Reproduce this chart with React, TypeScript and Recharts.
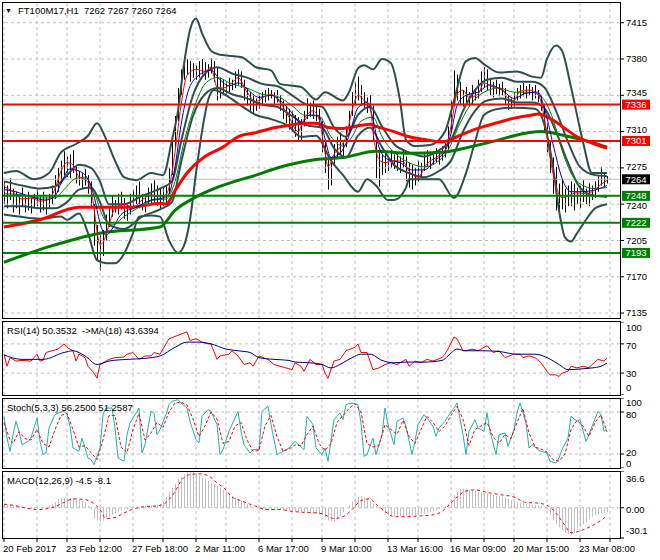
import React from "react";
import { ComposedChart, Bar, Line, XAxis, YAxis, ReferenceLine } from "recharts";

const FONT = "'Liberation Sans', Arial, sans-serif";
const FS = 9.5;
const X_DOMAIN: [number, number] = [-2 / 3, 205 + 1 / 3];

// ---------- axis ----------
const xGridIdx = [0, 11, 21, 32, 43, 53, 64, 74, 85, 96, 106, 117, 128, 138, 149, 160, 170, 181, 192, 202];
const xLabelIdx = [0, 21, 43, 64, 85, 106, 128, 149, 170, 192];
const xLabels = ["20 Feb 2017", "23 Feb 12:00", "27 Feb 18:00", "2 Mar 11:00", "6 Mar 17:00", "9 Mar 10:00", "13 Mar 16:00", "16 Mar 09:00", "20 Mar 15:00", "23 Mar 08:00"];
const priceTicks = [7135, 7170, 7205, 7240, 7275, 7310, 7345, 7380, 7415];
const rsiTicks = [0, 30, 70, 100];
const stochTicks = [0, 20, 80, 100];
const macdTicks = [-30.1, 0, 36.6];

// ---------- levels ----------
const redLevels = [7336, 7301];
const greenLevels = [7248, 7222, 7193];
const bidPrice = 7264;

// ---------- titles ----------
const symbolTitle = "FT100M17,H1  7262 7267 7260 7264";
const rsiTitle = "RSI(14) 50.3532  ->MA(18) 43.6394";
const stochTitle = "Stoch(5,3,3) 56.2500 51.2587";
const macdTitle = "MACD(12,26,9) -4.5 -8.1";

// ---------- price bars (H1) ----------
const priceHigh = [
  7262, 7258, 7265, 7255, 7252, 7250, 7256, 7248, 7252, 7246, 7250, 7254, 7248, 7252, 7247, 7250, 7258,
  7268, 7275, 7282, 7291, 7286, 7288, 7292,
  7276, 7272, 7270, 7274, 7268,
  7262, 7240, 7220, 7210,
  7215, 7230, 7238,
  7248, 7244, 7250, 7252, 7246, 7240, 7250, 7254, 7258, 7262, 7250, 7248, 7256, 7260, 7263, 7258, 7255,
  7256, 7258,
  7275, 7300, 7325, 7352, 7370,
  7382, 7380, 7378, 7376, 7374, 7378, 7380, 7377, 7375, 7381, 7378,
  7372, 7362,
  7360, 7358, 7362, 7360, 7368,
  7370, 7368,
  7360, 7352, 7348, 7345, 7342, 7346,
  7348, 7350, 7352, 7350, 7348, 7350,
  7345, 7340, 7335, 7332, 7330, 7326, 7324,
  7322, 7330, 7342, 7338, 7340, 7336,
  7332, 7320, 7300, 7285, 7280,
  7298, 7305, 7309, 7302,
  7315, 7330, 7348, 7358, 7363, 7355,
  7348, 7343, 7345,
  7335, 7300, 7290,
  7288, 7290, 7284, 7292, 7288, 7290, 7286, 7292,
  7286, 7280, 7278, 7275, 7282, 7280,
  7288, 7292, 7286, 7290, 7294, 7290, 7296, 7299,
  7315, 7340, 7369, 7365,
  7358, 7350, 7353, 7348, 7355, 7352, 7360, 7368, 7372,
  7370, 7362, 7358, 7360, 7356, 7358,
  7352, 7345, 7342, 7348,
  7352, 7355, 7357, 7354, 7356, 7353, 7355, 7350,
  7345, 7335, 7318, 7300, 7285, 7276,
  7260, 7263, 7255, 7258,
  7262, 7260, 7256, 7258, 7263, 7255, 7260, 7258, 7262,
  7268, 7276, 7270, 7267,
];
const priceLow = [
  7240, 7236, 7244, 7232, 7236, 7230, 7238, 7232, 7234, 7231, 7236, 7238, 7232, 7234, 7230, 7236, 7240,
  7245, 7252, 7260, 7268, 7266, 7265, 7270,
  7260, 7258, 7255, 7258, 7250,
  7238, 7200, 7185, 7176,
  7190, 7205, 7218,
  7228, 7232, 7230, 7235, 7226, 7224, 7230, 7238, 7240, 7236, 7234, 7232, 7238, 7240, 7242, 7238, 7236,
  7238, 7240,
  7250, 7268, 7295, 7320, 7345,
  7360, 7365, 7358, 7362, 7360, 7362, 7365, 7360, 7362, 7366, 7358,
  7340, 7342,
  7346, 7345, 7348, 7350, 7352,
  7355, 7352,
  7340, 7335, 7330, 7328, 7330, 7332,
  7335, 7338, 7340, 7342, 7336, 7338,
  7330, 7322, 7318, 7312, 7310, 7305, 7300,
  7302, 7315, 7322, 7324, 7322, 7320,
  7315, 7290, 7270, 7254, 7258,
  7278, 7285, 7288, 7284,
  7295, 7310, 7325, 7335, 7340, 7335,
  7332, 7328, 7330,
  7300, 7265, 7257,
  7268, 7270, 7272, 7275, 7274, 7272, 7270, 7275,
  7262, 7256, 7254, 7258, 7262, 7265,
  7272, 7276, 7274, 7278, 7280, 7278, 7282, 7285,
  7290, 7310, 7335, 7340,
  7336, 7334, 7338, 7334, 7336, 7340, 7342, 7348, 7352,
  7350, 7345, 7343, 7346, 7344, 7345,
  7336, 7331, 7332, 7334,
  7340, 7342, 7344, 7342, 7345, 7340, 7342, 7338,
  7330, 7310, 7290, 7270, 7250, 7234,
  7228, 7235, 7232, 7238,
  7238, 7234, 7240, 7236, 7242, 7240, 7238, 7244, 7246,
  7252, 7258, 7256, 7260,
];

// ---------- main-window indicators [bar index, value] ----------
const maFastRed = [[0,7257],[3,7252],[6,7245],[9,7246],[12,7243],[15,7245],[17,7255],[19,7272],[21,7280],[23,7278],[25,7266],[27,7264],[29,7254],[30,7236],[31,7214],[32,7201],[33,7203],[35,7220],[37,7236],[40,7240],[43,7237],[46,7244],[49,7249],[52,7247],[54,7249],[55,7256],[57,7290],[59,7335],[61,7364],[64,7370],[67,7368],[69,7372],[71,7353],[73,7352],[76,7357],[78,7362],[81,7348],[84,7339],[87,7344],[89,7346],[92,7338],[95,7324],[98,7310],[100,7322],[103,7330],[105,7322],[107,7290],[108,7276],[110,7288],[112,7295],[114,7305],[116,7330],[118,7345],[120,7340],[122,7336],[123,7310],[125,7283],[127,7280],[130,7282],[133,7281],[135,7272],[138,7266],[141,7279],[144,7285],[147,7292],[149,7315],[151,7346],[153,7350],[155,7343],[158,7346],[160,7357],[163,7353],[166,7351],[168,7342],[170,7340],[172,7349],[175,7350],[178,7346],[180,7325],[182,7285],[184,7258],[186,7246],[188,7248],[191,7251],[194,7250],[197,7254],[199,7259],[201,7263]];
const maMidBlue = [[0,7254],[4,7252],[9,7247],[14,7244],[17,7248],[19,7260],[22,7274],[25,7272],[28,7264],[30,7248],[32,7222],[34,7210],[36,7216],[39,7230],[44,7237],[49,7244],[53,7246],[55,7250],[57,7276],[59,7316],[61,7345],[64,7362],[69,7369],[72,7360],[75,7354],[78,7357],[81,7351],[85,7343],[89,7345],[92,7340],[96,7328],[99,7318],[102,7326],[105,7325],[107,7303],[109,7285],[112,7289],[115,7306],[118,7333],[121,7338],[123,7322],[125,7295],[128,7283],[132,7280],[136,7273],[140,7273],[144,7283],[147,7291],[149,7308],[151,7335],[154,7345],[158,7348],[162,7355],[166,7350],[170,7342],[174,7347],[178,7348],[180,7334],[183,7298],[186,7265],[189,7252],[192,7252],[196,7253],[201,7258]];
const maSlowGreen = [[0,7250],[6,7249],[12,7246],[17,7246],[20,7254],[24,7265],[27,7266],[30,7252],[33,7228],[36,7220],[40,7228],[45,7237],[50,7244],[54,7245],[57,7262],[60,7300],[64,7338],[67,7356],[71,7362],[76,7356],[81,7352],[86,7346],[91,7344],[96,7335],[100,7326],[105,7325],[109,7305],[113,7296],[116,7305],[119,7320],[123,7324],[126,7305],[130,7290],[135,7280],[140,7276],[145,7282],[148,7292],[152,7318],[156,7338],[160,7348],[165,7352],[170,7348],[175,7348],[179,7344],[183,7322],[186,7292],[189,7270],[193,7258],[197,7255],[201,7256]];
const bbUpper = [[0,7270],[4,7272],[10,7264],[15,7270],[19,7290],[24,7298],[28,7306],[31,7318],[34,7303],[37,7282],[40,7266],[44,7263],[49,7270],[53,7268],[56,7302],[58,7330],[60,7375],[62,7408],[64,7419],[66,7405],[69,7388],[72,7384],[79,7382],[84,7372],[89,7369],[92,7356],[99,7353],[104,7341],[107,7348],[113,7340],[115,7348],[118,7371],[120,7374],[123,7370],[126,7380],[129,7376],[132,7340],[134,7302],[137,7296],[142,7297],[147,7310],[150,7340],[154,7378],[157,7381],[160,7375],[165,7367],[171,7368],[176,7363],[179,7362],[181,7380],[184,7393],[186,7388],[189,7353],[193,7300],[196,7270],[201,7270]];
const bbLower = [[0,7230],[5,7228],[12,7226],[19,7228],[21,7225],[25,7231],[28,7212],[31,7186],[34,7183],[37,7183],[40,7192],[43,7212],[45,7228],[49,7229],[52,7228],[55,7205],[58,7193],[60,7200],[62,7225],[64,7270],[66,7310],[68,7340],[70,7350],[74,7345],[79,7335],[84,7326],[89,7322],[95,7315],[99,7305],[104,7306],[109,7282],[113,7268],[118,7252],[121,7264],[124,7258],[128,7244],[130,7244],[134,7256],[135,7264],[145,7264],[150,7246],[154,7270],[157,7300],[160,7326],[165,7332],[170,7333],[177,7332],[180,7318],[183,7276],[185,7234],[187,7208],[189,7204],[191,7212],[194,7225],[197,7236],[201,7240]];
const envUpper = [[0,7262],[6,7258],[12,7255],[17,7257],[21,7268],[25,7278],[29,7275],[32,7262],[35,7240],[40,7240],[46,7248],[52,7255],[56,7262],[59,7300],[63,7345],[67,7366],[71,7372],[76,7366],[81,7362],[86,7356],[91,7354],[96,7345],[101,7336],[106,7334],[110,7314],[114,7305],[118,7326],[122,7334],[126,7315],[130,7298],[135,7290],[140,7286],[145,7292],[149,7302],[153,7330],[157,7350],[161,7360],[166,7362],[171,7358],[176,7358],[180,7353],[184,7330],[188,7300],[192,7276],[197,7268],[201,7267]];
const envLower = [[0,7238],[6,7238],[12,7236],[17,7236],[21,7242],[25,7254],[29,7256],[32,7242],[35,7220],[40,7216],[46,7228],[52,7235],[56,7242],[59,7280],[63,7325],[67,7346],[71,7352],[76,7346],[81,7342],[86,7336],[91,7334],[96,7325],[101,7316],[106,7314],[110,7294],[114,7285],[118,7306],[122,7314],[126,7295],[130,7278],[135,7270],[140,7266],[145,7272],[149,7282],[153,7310],[157,7330],[161,7340],[166,7342],[171,7338],[176,7338],[180,7333],[184,7310],[188,7280],[192,7256],[197,7248],[201,7247]];
const ma100Red = [[0,7218],[12,7225],[25,7237],[32,7237],[42,7237],[52,7241],[54,7240],[57,7253],[61,7270],[67,7286],[73,7295],[78,7305],[84,7309],[89,7313],[95,7316],[100,7318],[104,7318],[108,7314],[113,7313],[119,7316],[122,7317],[124,7315],[130,7310],[135,7305],[141,7302],[146,7300],[151,7305],[155,7310],[159,7314],[165,7319],[170,7323],[176,7326],[178,7327],[183,7321],[187,7313],[191,7305],[196,7299],[201,7294]];
const ma200Green = [[0,7184],[15,7199],[32,7212],[52,7218],[57,7234],[64,7247],[70,7255],[78,7263],[84,7268],[89,7273],[95,7278],[104,7283],[113,7285],[124,7291],[135,7289],[146,7290],[155,7295],[165,7302],[170,7306],[179,7310],[187,7306],[193,7302],[201,7295]];

// ---------- RSI ----------
const rsiValues = [[0,55.9],[1,39.4],[2,51.2],[4,46.5],[6,47.4],[9,46.5],[11,55.9],[12,46.5],[13,47.4],[14,58.2],[16,60.6],[18,62.9],[20,70],[21,65.3],[23,60.6],[24,46.5],[25,55.9],[27,51.2],[28,39.4],[30,30],[31,22.9],[32,41.8],[33,44.1],[35,48.8],[37,51.2],[40,52.1],[41,55.9],[43,58.2],[45,48.8],[47,53.5],[49,53.5],[50,58.2],[52,55.9],[54,70],[55,77.1],[58,81.8],[61,86.5],[62,74.7],[64,77.1],[66,72.4],[68,70],[69,70],[71,48.8],[72,53.5],[75,55.9],[76,60.6],[78,53.5],[80,41.8],[82,44.1],[83,39.4],[85,53.5],[88,48.8],[90,41.8],[92,39.4],[94,37.1],[96,34.7],[97,44.1],[99,39.4],[100,32.4],[102,48.8],[104,41.8],[106,41.8],[107,30],[108,22.9],[110,46.5],[112,48.8],[114,60.6],[117,65.3],[118,70],[119,58.2],[121,58.2],[123,34.7],[125,37.1],[127,41.8],[129,44.1],[131,41.8],[134,48.8],[135,39.4],[137,46.5],[139,44.1],[141,48.8],[143,46.5],[146,51.2],[147,55.9],[148,62.9],[150,79.4],[151,77.1],[153,60.6],[154,60.6],[156,62.9],[158,60.6],[160,65.3],[161,67.6],[163,58.2],[165,60.6],[167,51.2],[170,55.9],[172,55.9],[173,51.2],[175,53.5],[177,51.2],[179,44.1],[181,32.4],[182,27.6],[184,27.6],[185,25.3],[186,30],[188,32.4],[189,39.4],[191,37.1],[193,39.4],[195,37.1],[196,41.8],[198,48.8],[200,46.5],[201,50.4]];
const rsiMA = [[0,54.9],[6,48.8],[13,48.8],[20,58.2],[23,60.6],[27,53.5],[31,41.8],[35,46.5],[41,48.8],[47,50.2],[52,53.5],[57,65.3],[61,72.4],[65,72.4],[69,70],[74,62.9],[78,60.6],[82,58.2],[85,51.2],[90,48.8],[95,47.4],[97,45.1],[102,44.1],[106,41.8],[109,37.1],[112,41.8],[116,51.2],[119,55.9],[122,55.9],[126,47.4],[130,44.1],[134,45.1],[140,45.1],[146,47.4],[148,53.5],[151,62.9],[154,60.6],[160,60.6],[165,59.6],[171,55.9],[177,55.9],[181,51.2],[185,41.8],[188,34.7],[192,35.6],[196,37.1],[199,39.4],[201,43.6]];

// ---------- Stochastic ----------
const stochMain = [[0,73.8],[1,42.9],[2,23.8],[3,47.6],[4,66.7],[5,52.4],[6,33.4],[8,38.1],[9,42.9],[11,71.4],[12,38.1],[13,19.1],[14,21.5],[15,57.1],[17,76.2],[18,78.6],[20,81],[21,76.2],[22,59.5],[23,28.6],[25,23.8],[26,42.9],[28,14.3],[29,11.9],[30,4.8],[32,28.6],[33,76.2],[34,85.7],[36,85.7],[37,57.1],[38,14.3],[40,9.5],[41,47.6],[42,64.3],[44,78.6],[45,85.7],[46,21.5],[47,33.4],[49,81],[50,78.6],[51,47.6],[52,54.8],[54,76.2],[55,90.5],[56,95.2],[58,97.6],[59,92.9],[61,85.7],[62,66.7],[64,40.5],[65,35.7],[66,73.8],[68,83.3],[69,81],[71,61.9],[72,19.1],[73,26.2],[75,52.4],[77,71.4],[78,81],[79,52.4],[80,33.4],[82,21.5],[83,26.2],[85,26.2],[86,81],[88,88.1],[89,61.9],[91,19.1],[93,23.8],[95,28.6],[97,38.1],[100,26.2],[101,73.8],[103,61.9],[104,28.6],[106,19.1],[107,28.6],[108,9.5],[110,69],[112,78.6],[113,69],[114,90.5],[116,92.9],[118,90.5],[119,64.3],[120,16.7],[121,19.1],[123,42.9],[124,19.1],[126,47.6],[127,85.7],[128,61.9],[130,33.4],[131,66.7],[133,71.4],[134,59.5],[136,19.1],[137,38.1],[138,61.9],[140,76.2],[141,71.4],[143,59.5],[144,45.2],[145,57.1],[147,66.7],[148,73.8],[150,85.7],[151,92.9],[153,47.6],[154,19.1],[155,52.4],[157,69],[158,57.1],[160,52.4],[161,78.6],[162,52.4],[164,19.1],[165,47.6],[167,50],[168,31],[170,54.8],[171,78.6],[172,92.9],[174,64.3],[175,28.6],[176,33.4],[178,26.2],[179,23.8],[181,21.5],[182,9.5],[184,7.1],[185,14.3],[186,26.2],[188,42.9],[189,73.8],[191,66.7],[192,69],[194,38.1],[195,47.6],[196,59.5],[198,81],[199,76.2],[200,52.4],[201,56.3]];
const stochSignal = [[0,65],[2,40],[3,35],[5,52],[7,42],[9,40],[11,55],[13,35],[15,30],[17,55],[19,75],[21,78],[23,55],[25,30],[27,32],[29,22],[31,12],[33,40],[35,75],[37,75],[39,30],[41,22],[43,55],[45,78],[47,40],[49,50],[51,65],[53,58],[55,80],[57,93],[59,94],[61,90],[63,70],[65,45],[67,60],[69,80],[71,70],[73,35],[75,38],[77,60],[79,65],[81,40],[83,24],[85,25],[87,60],[89,75],[91,45],[93,24],[95,27],[97,33],[99,32],[101,48],[103,60],[105,35],[107,25],[109,35],[111,65],[113,75],[115,85],[117,92],[119,80],[121,35],[123,30],[125,32],[127,62],[129,55],[131,48],[133,68],[135,45],[137,35],[139,55],[141,74],[143,65],[145,52],[147,60],[149,75],[151,88],[153,70],[155,32],[157,55],[159,60],[161,65],[163,45],[165,35],[167,48],[169,42],[171,65],[173,85],[175,50],[177,30],[179,27],[181,23],[183,12],[185,10],[187,20],[189,55],[191,68],[193,60],[195,45],[197,65],[199,76],[201,51.3]];

// ---------- MACD ----------
const macdHist = [
  3.6, 3.4, 3.0, 2.5, 2.0, 1.3, 0.6, 0, -0.5, -0.9,
  -1.1, -1.0, -0.6, 0, 1.0, 2.2, 3.6, 5.5, 8.9, 9.5,
  9.8, 10.0, 9.8, 9.4, 8.9, 8.0, 6.8, 5.3, 2.0, -1.8,
  -10.7, -12.8, -14.2, -12.8, -10.7, -8.8, -7.0, -5.3, -4.0, -2.8,
  -1.8, -1.2, -0.7, -0.2, 0.4, 1.1, 1.3, 1.5, 1.6, 1.8,
  2.3, 3.0, 3.6, 6.8, 10.7, 15.0, 19.6, 24.0, 28.5, 31.0,
  33.5, 35.6, 36.2, 36.6, 34.5, 32.0, 30.2, 28.5, 26.7, 24.8,
  23.0, 21.4, 19.6, 17.8, 16.0, 13.8, 11.7, 10.1, 8.6, 7.1,
  5.5, 4.0, 2.5, 1.0, -0.4, -1.8, -2.0, -2.2, -2.4, -2.5,
  -2.3, -2.1, -1.9, -1.8, -2.2, -2.7, -3.2, -3.6, -4.0, -4.3,
  -4.6, -5.0, -5.3, -5.8, -6.2, -6.6, -7.1, -9.8, -12.5, -13.5,
  -14.2, -11.5, -8.9, -4.5, 0, 3.0, 6.0, 8.9, 10.5, 11.7,
  10.3, 8.9, 6.5, 4.1, 1.8, -0.6, -3.0, -5.3, -7.1, -8.9,
  -8.9, -8.9, -8.7, -8.4, -8.2, -8.0, -7.7, -7.4, -7.1, -6.4,
  -5.7, -5.0, -4.3, -3.6, -2.4, -1.2, 0, 1.8, 3.6, 8.0,
  12.5, 15.7, 18.9, 19.2, 18.9, 18.2, 17.4, 16.7, 15.9, 15.0,
  14.2, 13.7, 13.2, 12.7, 12.2, 11.7, 10.8, 9.8, 8.9, 7.7,
  6.5, 5.3, 4.9, 4.5, 4.0, 3.6, 3.1, 2.7, 2.2, 1.8,
  0, -1.8, -7.0, -12.5, -16.0, -19.6, -22.3, -24.9, -26.0, -27.0,
  -24.5, -21.4, -19.0, -16.6, -14.2, -11.5, -8.9, -7.7, -6.5, -5.3,
  -4.9, -4.5,
];
const macdSignal = [[0,3.6],[3,2.5],[7,0],[11,-1.8],[14,-1.1],[17,1.1],[20,5.3],[23,8.9],[27,8.2],[29,6.0],[32,-1.8],[34,-10.7],[37,-9.6],[40,-5.3],[42,-2.5],[47,1.1],[51,1.8],[54,5.3],[57,16],[59,26.7],[62,33.1],[65,33.8],[68,32],[71,24.9],[74,17.8],[76,10.7],[79,7.1],[83,2.5],[88,-1.8],[92,-1.8],[96,-3.6],[100,-4.6],[105,-5.3],[107,-7.1],[110,-10.7],[113,-8.9],[116,-1.8],[119,7.1],[122,8.9],[124,3.6],[127,-3.6],[130,-8.9],[134,-8.9],[138,-8.2],[143,-7.1],[146,-3.6],[148,1.8],[151,10.7],[154,16.7],[157,17.8],[161,15.3],[165,13.2],[170,10.7],[174,5.3],[178,4.6],[181,2.5],[184,-5.3],[187,-17.8],[189,-24.9],[192,-23.1],[196,-17.8],[199,-12.5],[201,-8.1]];

// ---------- tables built from the arrays ----------
const pts = (a: number[][]) => a.map(([i, v]) => ({ i, v }));
const priceRows = priceHigh.map((h, i) => ({ i, hl: [priceLow[i], h] }));
const histRows = macdHist.map((h, i) => ({ i, h }));

// ---------- drawing helpers ----------
const HLBar = (p: any) => {
  if (p.x == null || p.y == null) return <g />;
  const cx = Math.round(p.x + p.width / 2) + 0.5;
  return <line x1={cx} x2={cx} y1={p.y} y2={p.y + p.height} stroke="#000" strokeWidth={1} />;
};
const HistBar = (p: any) => {
  if (p.x == null || p.y == null) return <g />;
  const cx = Math.round(p.x + p.width / 2) + 0.5;
  return <line x1={cx} x2={cx} y1={p.y} y2={p.y + p.height} stroke="#c0c0c0" strokeWidth={1} />;
};

const YTick = (p: any) => {
  const { x, y, payload, shift, fmt } = p;
  const d = shift && shift[String(payload.value)] ? shift[String(payload.value)] : 0;
  return (
    <text x={x} y={y} dy={3.4 + d} textAnchor="start" fontSize={FS} fontFamily={FONT} fill="#000">
      {fmt ? fmt(payload.value) : payload.value}
    </text>
  );
};

const XTick = (p: any) => {
  const k = xLabelIdx.indexOf(p.payload.value);
  if (k < 0) return <g />;
  return (
    <text x={p.x - 1} y={p.y} dy={7.5} textAnchor="start" fontSize={FS} fontFamily={FONT} fill="#000">
      {xLabels[k]}
    </text>
  );
};

const PriceTag = (p: any) => {
  const vb = p.viewBox;
  if (!vb) return <g />;
  const x = vb.x + vb.width + 2;
  const y = vb.y;
  return (
    <g>
      <rect x={x} y={y - 5} width={28} height={10} fill={p.bg} />
      <text x={x + 14} y={y + 3.3} textAnchor="middle" fontSize={FS} fontFamily={FONT} fill="#fff">
        {p.text}
      </text>
    </g>
  );
};

const gridV = () =>
  xGridIdx.map((i) => (
    <ReferenceLine key={"gx" + i} x={i} stroke="#c0c0c0" strokeDasharray="3 3" strokeWidth={1} />
  ));
const gridH = (vals: number[]) =>
  vals.map((v) => <ReferenceLine key={"gy" + v} y={v} stroke="#c0c0c0" strokeDasharray="3 3" strokeWidth={1} />);

const yAxisCommon = {
  orientation: "right" as const,
  width: 40,
  tickSize: 4,
  tickMargin: 2,
  axisLine: false,
  tickLine: { stroke: "#000" },
  interval: 0 as const,
  allowDataOverflow: true,
};

const band = (data: number[][], key: string) => (
  <Line key={key} data={pts(data)} dataKey="v" type="monotone" stroke="#2f4f4f" strokeWidth={2} dot={false} isAnimationActive={false} />
);

function MainChart() {
  return (
    <ComposedChart width={660} height={320} data={priceRows} margin={{ top: 2, right: 0, bottom: 2, left: 2 }}>
      <XAxis type="number" dataKey="i" domain={X_DOMAIN} hide allowDataOverflow />
      <YAxis {...yAxisCommon} type="number" domain={[7130.23, 7434.96]} ticks={priceTicks} tick={(p: any) => <YTick {...p} shift={{ "7240": 1.5, "7275": -1, "7310": -2, "7345": -2.5 }} />} />
      {gridV()}
      {gridH(priceTicks)}
      <ReferenceLine y={bidPrice} stroke="#c0c0c0" strokeWidth={1} />
      <Bar dataKey="hl" barSize={1} shape={HLBar} isAnimationActive={false} />
      {band(bbUpper, "bu")}
      {band(bbLower, "bl")}
      {band(envUpper, "eu")}
      {band(envLower, "el")}
      <Line data={pts(ma200Green)} dataKey="v" type="monotone" stroke="#007a00" strokeWidth={3} dot={false} isAnimationActive={false} />
      <Line data={pts(ma100Red)} dataKey="v" type="monotone" stroke="#ff0000" strokeWidth={3} dot={false} isAnimationActive={false} />
      <Line data={pts(maSlowGreen)} dataKey="v" type="monotone" stroke="#008000" strokeWidth={1} dot={false} isAnimationActive={false} />
      <Line data={pts(maMidBlue)} dataKey="v" type="monotone" stroke="#0000c8" strokeWidth={1} dot={false} isAnimationActive={false} />
      <Line data={pts(maFastRed)} dataKey="v" type="monotone" stroke="#ff0000" strokeWidth={1} dot={false} isAnimationActive={false} />
      {redLevels.map((v) => (
        <ReferenceLine key={"r" + v} y={v} stroke="#ff0000" strokeWidth={2} label={<PriceTag bg="#ff0000" text={String(v)} />} />
      ))}
      {greenLevels.map((v) => (
        <ReferenceLine key={"g" + v} y={v} stroke="#008000" strokeWidth={2} label={<PriceTag bg="#008000" text={String(v)} />} />
      ))}
      <ReferenceLine y={bidPrice} stroke="none" strokeWidth={0} label={<PriceTag bg="#000000" text={String(bidPrice)} />} />
    </ComposedChart>
  );
}

function RsiChart() {
  return (
    <ComposedChart width={660} height={73} data={pts(rsiValues)} margin={{ top: 0, right: 0, bottom: 0, left: 2 }}>
      <XAxis type="number" dataKey="i" domain={X_DOMAIN} hide allowDataOverflow />
      <YAxis {...yAxisCommon} type="number" domain={[0, 100]} ticks={rsiTicks} tick={(p: any) => <YTick {...p} shift={{ "100": 6, "70": 1.5, "30": 0.8, "0": -7 }} />} />
      {gridV()}
      {gridH([30, 70])}
      <Line dataKey="v" type="linear" stroke="#ff0000" strokeWidth={1} dot={false} isAnimationActive={false} />
      <Line data={pts(rsiMA)} dataKey="v" type="monotone" stroke="#000080" strokeWidth={1} dot={false} isAnimationActive={false} />
    </ComposedChart>
  );
}

function StochChart() {
  return (
    <ComposedChart width={660} height={70} data={pts(stochMain)} margin={{ top: 0, right: 0, bottom: 0, left: 2 }}>
      <XAxis type="number" dataKey="i" domain={X_DOMAIN} hide allowDataOverflow />
      <YAxis {...yAxisCommon} type="number" domain={[0, 100]} ticks={stochTicks} tick={(p: any) => <YTick {...p} shift={{ "100": 4.5, "80": 2.5, "20": -1.5, "0": -4 }} />} />
      {gridV()}
      {gridH([20, 80])}
      <Line dataKey="v" type="linear" stroke="#20b2aa" strokeWidth={1} dot={false} isAnimationActive={false} />
      <Line data={pts(stochSignal)} dataKey="v" type="linear" stroke="#ff0000" strokeWidth={1} strokeDasharray="3 2" dot={false} isAnimationActive={false} />
    </ComposedChart>
  );
}

const macdFmt = (v: number) => (v === 0 ? "0.00" : v.toFixed(1));

function MacdChart() {
  return (
    <ComposedChart width={660} height={89} data={histRows} margin={{ top: 0, right: 0, bottom: 0, left: 2 }}>
      <XAxis
        type="number"
        dataKey="i"
        domain={X_DOMAIN}
        allowDataOverflow
        ticks={xGridIdx}
        interval={0}
        height={22}
        tickSize={4}
        tickMargin={2}
        axisLine={false}
        tickLine={{ stroke: "#000" }}
        tick={(p: any) => <XTick {...p} />}
      />
      <YAxis {...yAxisCommon} type="number" domain={[-30.1, 36.6]} ticks={macdTicks} tick={(p: any) => <YTick {...p} fmt={macdFmt} shift={{ "36.6": 8, "0": 1.5, "-30.1": -7 }} />} />
      {gridV()}
      {gridH([0])}
      <Bar dataKey="h" barSize={1} shape={HistBar} isAnimationActive={false} />
      <Line data={pts(macdSignal)} dataKey="v" type="monotone" stroke="#ff0000" strokeWidth={1} strokeDasharray="3 3" dot={false} isAnimationActive={false} />
    </ComposedChart>
  );
}

const frame = (top: number, height: number): React.CSSProperties => ({
  position: "absolute",
  left: 2,
  top,
  width: 619,
  height,
  border: "1px solid #000",
  boxSizing: "border-box",
  pointerEvents: "none",
});

const titleStyle = (left: number, top: number): React.CSSProperties => ({
  position: "absolute",
  left,
  top,
  fontFamily: FONT,
  fontSize: FS,
  lineHeight: "12px",
  color: "#000",
  whiteSpace: "pre",
});

export default function App() {
  return (
    <div style={{ position: "absolute", left: 0, top: 0, width: 660, height: 560, background: "#fff", overflow: "hidden" }}>
      <div style={{ position: "absolute", left: 0, top: 0 }}>
        <MainChart />
      </div>
      <div style={{ position: "absolute", left: 0, top: 322 }}>
        <RsiChart />
      </div>
      <div style={{ position: "absolute", left: 0, top: 398 }}>
        <StochChart />
      </div>
      <div style={{ position: "absolute", left: 0, top: 471 }}>
        <MacdChart />
      </div>
      <div style={frame(2, 317)} />
      <div style={frame(321, 75)} />
      <div style={frame(398, 71)} />
      <div style={frame(471, 68)} />
      <div style={{ ...titleStyle(5, 5), fontSize: 7 }}>▼</div>
      <div style={titleStyle(18, 5)}>{symbolTitle}</div>
      <div style={titleStyle(7, 325)}>{rsiTitle}</div>
      <div style={titleStyle(7, 402)}>{stochTitle}</div>
      <div style={titleStyle(7, 475)}>{macdTitle}</div>
    </div>
  );
}
